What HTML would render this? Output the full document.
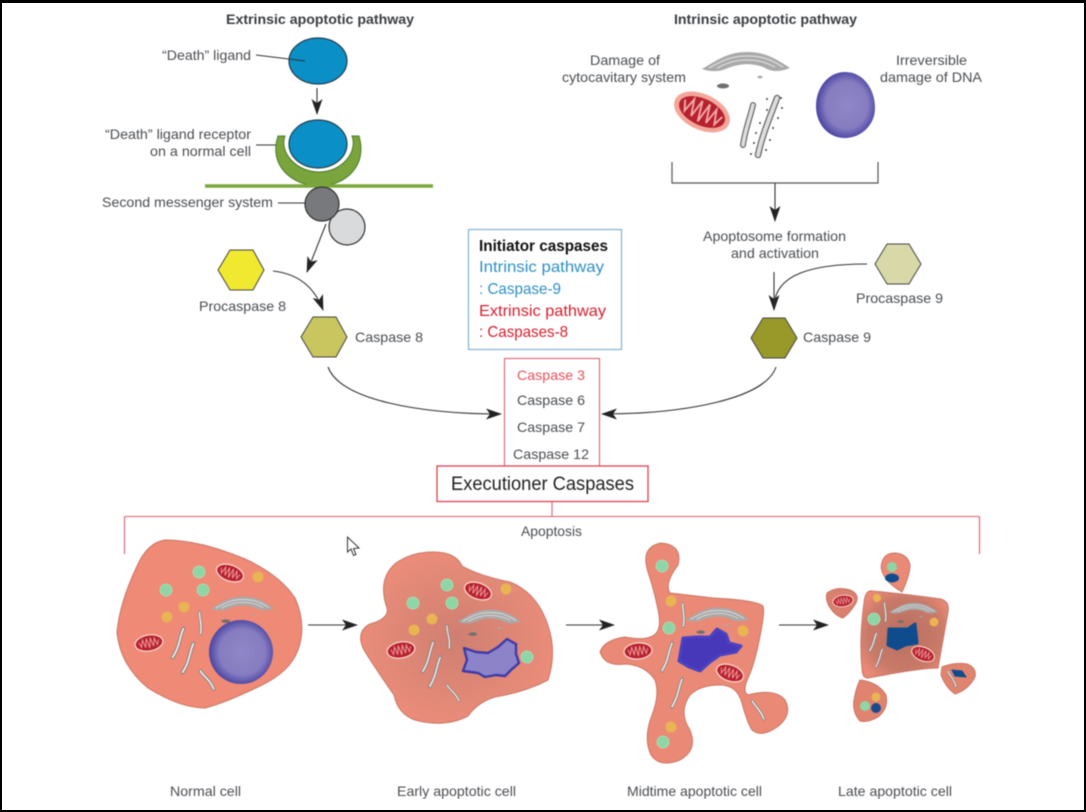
<!DOCTYPE html>
<html lang="en">
<head>
<meta charset="utf-8">
<title>Apoptotic pathways</title>
<style>
html,body{margin:0;padding:0;background:#fff;width:1086px;height:812px;overflow:hidden}
svg{display:block}
text{font-family:"Liberation Sans",sans-serif;font-size:14px;fill:#4a4d52}
.b{font-weight:bold;fill:#3a3d42}
.c{font-size:16px}
</style>
</head>
<body>
<svg width="1086" height="812" viewBox="0 0 1086 812" xmlns="http://www.w3.org/2000/svg">
<defs>
<radialGradient id="nuc" cx="52%" cy="50%" r="55%"><stop offset="0" stop-color="#8f87c6"/><stop offset=".65" stop-color="#867cc0"/><stop offset="1" stop-color="#3f3a9e"/></radialGradient>
<radialGradient id="cy2" cx="50%" cy="50%" r="55%"><stop offset="0" stop-color="#cf7f70"/><stop offset=".75" stop-color="#e58a78"/><stop offset="1" stop-color="#ee8d7a"/></radialGradient>
<radialGradient id="cy4" cx="50%" cy="50%" r="60%"><stop offset="0" stop-color="#b8705f"/><stop offset=".7" stop-color="#c97a69"/><stop offset="1" stop-color="#ea8a76"/></radialGradient>
<filter id="bl" x="0" y="0" width="100%" height="100%" color-interpolation-filters="sRGB"><feGaussianBlur stdDeviation=".4"/></filter>
<marker id="ah" viewBox="0 0 16 11" refX="15" refY="5.500" markerWidth="16" markerHeight="11" markerUnits="userSpaceOnUse" orient="auto"><path d="M0,0 L16,5.500 L0,11 L4,5.500Z" fill="#222"/></marker>
<g id="mito"><ellipse rx="14" ry="8" fill="#b7202f" stroke="#fbd5cc" stroke-width="1.3"/><polyline points="-10,-2 -8,3 -6,-4 -4,4 -2,-5 0,5 2,-5 4,4 6,-4 8,3 10,-2" fill="none" stroke="#ee9a98" stroke-width="1"/></g>
<g id="golgi">
<path d="M-45,4 C-27,-7 -17,-13 0,-13 C18,-13 28,-7 43,3 C33,7 25,7 18,3 C8,-2 -7,-2 -19,3 C-27,7 -37,7 -45,4Z" fill="#a9a9a9"/>
<path d="M-38,3 C-22,-6 -14,-9 0,-9 C15,-9 23,-6 36,2" fill="none" stroke="#dcdcdc" stroke-width="1.3"/>
<path d="M-30,3 C-18,-3 -10,-5 0,-5 C11,-5 18,-3 28,2" fill="none" stroke="#e4e4e4" stroke-width="1"/>
<ellipse cx="-24" cy="21" rx="6" ry="2.500" fill="#707070"/>
<ellipse cx="13" cy="12" rx="2.500" ry="1.400" fill="#aaa"/>
</g>
<g id="er" fill="none" stroke-linecap="round"><path d="M2,-13 C0,-6 3,3 -2,13" stroke="#777" stroke-width="4"/><path d="M2,-13 C0,-6 3,3 -2,13" stroke="#ececec" stroke-width="2.200"/></g>
<circle id="gr" r="6" fill="#8fd6a6" stroke="#a8e4bc" stroke-width=".8"/>
<circle id="ye" r="5.500" fill="#e9b452"/>
</defs>

<rect width="1086" height="812" fill="#fff"/>
<g filter="url(#bl)">
<!-- headings -->
<text class="b" x="226" y="24" textLength="188" lengthAdjust="spacingAndGlyphs">Extrinsic apoptotic pathway</text>
<text class="b" x="674" y="24" textLength="183" lengthAdjust="spacingAndGlyphs">Intrinsic apoptotic pathway</text>

<!-- extrinsic -->
<text x="162" y="60" textLength="89" lengthAdjust="spacingAndGlyphs">“Death” ligand</text>
<ellipse cx="318" cy="61" rx="29" ry="23" fill="#0a8fc6" stroke="#24404f" stroke-width="1.2"/>
<line x1="256" y1="55" x2="305" y2="61" stroke="#333" stroke-width="1.1"/>
<line x1="317" y1="88" x2="317" y2="114" stroke="#333" stroke-width="1.1" marker-end="url(#ah)"/>
<text x="105" y="139" textLength="146" lengthAdjust="spacingAndGlyphs">“Death” ligand receptor</text>
<text x="150" y="156" textLength="101" lengthAdjust="spacingAndGlyphs">on a normal cell</text>
<line x1="256" y1="145" x2="281" y2="145" stroke="#333" stroke-width="1.1"/>
<path d="M278,136 H285 C279,152 296,172 319,172 C342,172 358,152 352,136 H359 C368,166 345,186 319,186 C293,186 268,166 278,136Z" fill="#79a53c" stroke="#4e7a28" stroke-width="1"/>
<ellipse cx="318" cy="144" rx="29" ry="24" fill="#0a8fc6" stroke="#24404f" stroke-width="1.2"/>
<line x1="205" y1="186" x2="433" y2="186" stroke="#7aa83b" stroke-width="3.400"/>
<text x="102" y="207" textLength="171" lengthAdjust="spacingAndGlyphs">Second messenger system</text>
<line x1="278" y1="203" x2="306" y2="203" stroke="#333" stroke-width="1.1"/>
<circle cx="347" cy="227" r="18" fill="#d9dadc" stroke="#333" stroke-width="1.2"/>
<circle cx="322" cy="204" r="17" fill="#77797c" stroke="#333" stroke-width="1.2"/>
<line x1="326" y1="224" x2="307" y2="272" stroke="#333" stroke-width="1.1" marker-end="url(#ah)"/>
<polygon points="218,270 230,250 253,250 264,270 253,290 230,290" fill="#f0e92f" stroke="#444" stroke-width="1"/>
<path d="M273,271 Q310,275 323,310" fill="none" stroke="#333" stroke-width="1.1" marker-end="url(#ah)"/>
<text x="199" y="311" textLength="87" lengthAdjust="spacingAndGlyphs">Procaspase 8</text>
<polygon points="301,337 313,317 336,317 347,337 336,357 313,357" fill="#c9c660" stroke="#444" stroke-width="1"/>
<text x="355" y="342" textLength="68" lengthAdjust="spacingAndGlyphs">Caspase 8</text>

<!-- intrinsic -->
<text x="590" y="65" textLength="70" lengthAdjust="spacingAndGlyphs">Damage of</text>
<text x="562" y="82" textLength="124" lengthAdjust="spacingAndGlyphs">cytocavitary system</text>
<text x="896" y="65" textLength="71" lengthAdjust="spacingAndGlyphs">Irreversible</text>
<text x="880" y="82" textLength="102" lengthAdjust="spacingAndGlyphs">damage of DNA</text>
<use href="#golgi" transform="translate(747,65)"/>
<g transform="translate(702,112) rotate(25) scale(2.05,2.05)"><ellipse rx="14.500" ry="8.700" fill="#f3a79a"/><ellipse rx="12" ry="6.500" fill="#b7202f"/><polyline points="-10,-2 -8,3 -6,-4 -4,4 -2,-5 0,5 2,-5 4,4 6,-4 8,3 10,-2" fill="none" stroke="#f2aaa6" stroke-width=".9"/></g>
<g fill="none" stroke-linecap="round">
<path d="M753,105 C750,118 745,130 743,145" stroke="#666" stroke-width="6"/><path d="M753,105 C750,118 745,130 743,145" stroke="#dedede" stroke-width="3.600"/>
<path d="M777,98 C772,112 762,135 758,155" stroke="#666" stroke-width="6.500"/><path d="M777,98 C772,112 762,135 758,155" stroke="#dedede" stroke-width="4"/>
</g>
<g fill="#444"><circle cx="767" cy="99" r="1"/><circle cx="781" cy="98" r="1"/><circle cx="782" cy="108" r="1"/><circle cx="767" cy="110" r="1"/><circle cx="778" cy="118" r="1"/><circle cx="760" cy="123" r="1"/><circle cx="773" cy="128" r="1"/><circle cx="756" cy="133" r="1"/><circle cx="770" cy="140" r="1"/><circle cx="754" cy="143" r="1"/><circle cx="766" cy="150" r="1"/><circle cx="751" cy="154" r="1"/></g>
<path d="M845,72 C864,72 875,90 875,108 C875,126 860,138 845,138 C828,138 816,124 816,106 C816,88 828,72 845,72Z" fill="url(#nuc)"/>
<path d="M672,162 V183 H878 V162" fill="none" stroke="#555" stroke-width="1.2"/>
<line x1="775" y1="183" x2="775" y2="221" stroke="#333" stroke-width="1.1" marker-end="url(#ah)"/>
<text x="703" y="241" textLength="143" lengthAdjust="spacingAndGlyphs">Apoptosome formation</text>
<text x="731" y="258" textLength="88" lengthAdjust="spacingAndGlyphs">and activation</text>
<polygon points="875,264 887,244 909,244 921,264 909,284 887,284" fill="#d8d8a8" stroke="#444" stroke-width="1"/>
<text x="856" y="303" textLength="87" lengthAdjust="spacingAndGlyphs">Procaspase 9</text>
<line x1="774" y1="272" x2="774" y2="310" stroke="#333" stroke-width="1.1" marker-end="url(#ah)"/>
<path d="M867,264 C810,264 776,275 774,305" fill="none" stroke="#333" stroke-width="1.1"/>
<polygon points="751,338 763,318 785,318 797,338 785,358 763,358" fill="#99992a" stroke="#444" stroke-width="1"/>
<text x="803" y="342" textLength="68" lengthAdjust="spacingAndGlyphs">Caspase 9</text>

<!-- initiator box -->
<rect x="468.500" y="229.500" width="153" height="120" fill="#fff" stroke="#7fb2d2" stroke-width="1.2"/>
<text x="479" y="251" textLength="129" lengthAdjust="spacingAndGlyphs" style="font-size:15.500px;font-weight:bold;fill:#111">Initiator caspases</text>
<text class="c" x="479" y="272" textLength="125" lengthAdjust="spacingAndGlyphs" style="fill:#2f8fc4">Intrinsic pathway</text>
<text class="c" x="479" y="294" textLength="82" lengthAdjust="spacingAndGlyphs" style="fill:#2f8fc4">: Caspase-9</text>
<text class="c" x="479" y="316" textLength="127" lengthAdjust="spacingAndGlyphs" style="fill:#d81e2c">Extrinsic pathway</text>
<text class="c" x="479" y="337" textLength="89" lengthAdjust="spacingAndGlyphs" style="fill:#d81e2c">: Caspases-8</text>

<!-- caspases -->
<path d="M328,367 C340,400 420,414 501,414" fill="none" stroke="#333" stroke-width="1.1" marker-end="url(#ah)"/>
<path d="M776,367 C765,400 680,414 602,414" fill="none" stroke="#333" stroke-width="1.1" marker-end="url(#ah)"/>
<rect x="504.500" y="358.500" width="95" height="108" fill="#fff" stroke="#e4606c" stroke-width="1.1"/>
<text x="517" y="380" textLength="68" lengthAdjust="spacingAndGlyphs" style="fill:#e8505c">Caspase 3</text>
<text x="517" y="405" textLength="68" lengthAdjust="spacingAndGlyphs">Caspase 6</text>
<text x="517" y="432" textLength="68" lengthAdjust="spacingAndGlyphs">Caspase 7</text>
<text x="513" y="459" textLength="76" lengthAdjust="spacingAndGlyphs">Caspase 12</text>
<rect x="437" y="466" width="211" height="35.500" fill="#fff" stroke="#e0404e" stroke-width="1.3"/>
<text x="451" y="490" textLength="183" lengthAdjust="spacingAndGlyphs" style="font-size:19px;fill:#222">Executioner Caspases</text>
<path d="M552,502 V516.500 M124.500,554 V516.500 H979.500 V554" fill="none" stroke="#e0606c" stroke-width="1.1"/>
<text x="521" y="536" textLength="61" lengthAdjust="spacingAndGlyphs">Apoptosis</text>

<!-- cell arrows -->
<line x1="308" y1="625" x2="357" y2="625" stroke="#333" stroke-width="1.1" marker-end="url(#ah)"/>
<line x1="566" y1="625" x2="614" y2="625" stroke="#333" stroke-width="1.1" marker-end="url(#ah)"/>
<line x1="779" y1="625" x2="828" y2="625" stroke="#333" stroke-width="1.1" marker-end="url(#ah)"/>

<!-- normal cell -->
<path d="M165,540 Q200,540 245,559 Q280,575 295,598 Q307,625 298,650 Q290,672 260,686 Q225,703 205,708 Q180,708 148,688 Q120,665 117,632 Q120,600 140,560 Q150,542 165,540Z" fill="#ee8a76" stroke="#c97564" stroke-width="1"/>
<use href="#gr" x="199" y="572"/><use href="#gr" x="166" y="590"/><use href="#gr" x="203" y="590"/>
<use href="#ye" x="258" y="577"/><use href="#ye" x="184" y="607"/><use href="#ye" x="167" y="617"/>
<use href="#mito" transform="translate(230,573) rotate(20)"/><use href="#mito" transform="translate(149,643) rotate(-10)"/>
<use href="#golgi" transform="translate(243,606) scale(.72)"/>
<circle cx="241" cy="652" r="32" fill="url(#nuc)"/>
<use href="#er" transform="translate(178,643) rotate(14) scale(.85,1.15)"/>
<use href="#er" transform="translate(188,658) rotate(14) scale(.85,1.15)"/>
<use href="#er" transform="translate(207,680) rotate(-45) scale(.85)"/>
<use href="#er" transform="translate(200,623) rotate(-10) scale(.7,.8)"/>

<!-- early cell -->
<path d="M433,552 Q456,552 462,566 Q480,576 510,582 Q535,592 546,620 Q558,650 548,680 Q525,692 495,697 Q478,702 468,716 Q445,728 415,720 Q398,714 394,695 Q375,668 364,650 Q355,632 370,624 Q392,618 386,605 Q378,578 396,563 Q412,552 433,552Z" fill="url(#cy2)" stroke="#c97564" stroke-width="1"/>
<use href="#gr" x="447" y="585"/><use href="#gr" x="413" y="603"/><use href="#gr" x="452" y="603"/><use href="#gr" x="527" y="657"/>
<use href="#ye" x="506" y="589"/><use href="#ye" x="432" y="619"/><use href="#ye" x="414" y="630"/>
<use href="#mito" transform="translate(478,591) rotate(20)"/><use href="#mito" transform="translate(401,650) rotate(-10)"/>
<use href="#golgi" transform="translate(490,619) scale(.72)"/>
<path d="M464,648 L476,652 L488,653 L498,647 L507,639 L516,644 L516,654 L519,663 L511,670 L505,676 L496,675 L485,677 L478,673 L463,671 L467,660Z" fill="#8d83c8" stroke="#3f3aa8" stroke-width="2.400" stroke-linejoin="round"/>
<use href="#er" transform="translate(428,657) rotate(14) scale(.75,1.15)"/>
<use href="#er" transform="translate(435,672) rotate(14) scale(.75,1.15)"/>
<use href="#er" transform="translate(448,637) rotate(-12) scale(.6,.85)"/>
<use href="#er" transform="translate(453,693) rotate(-45) scale(.6,.75)"/>

<!-- midtime cell -->
<path d="M661,543 Q683,545 678,565 Q664,584 670,593 L713,598 Q755,600 763,606 Q765,612 760,636 Q755,663 748,678 Q742,692 748,695 Q775,688 785,700 Q793,715 777,727 Q762,738 752,730 Q747,722 742,703 Q737,685 720,685 Q700,685 690,695 Q678,712 690,730 Q698,750 680,760 Q660,768 651,755 Q643,738 652,715 Q660,695 655,680 Q645,665 625,664 Q605,667 600,652 Q604,640 625,637 Q650,642 657,632 Q662,625 657,605 Q654,590 648,572 Q640,547 661,543Z" fill="#ea8a76" stroke="#c97564" stroke-width="1"/>
<use href="#gr" x="662" y="566"/><use href="#gr" x="669" y="628"/><use href="#gr" x="663" y="742"/>
<use href="#ye" x="671" y="601"/><use href="#ye" x="743" y="631"/><use href="#ye" x="671" y="727"/>
<use href="#mito" transform="translate(638,651) rotate(-5)"/><use href="#mito" transform="translate(730,673) rotate(20)"/>
<use href="#golgi" transform="translate(718,617) scale(.72)"/>
<path d="M683,638 L696,637 L710,637 L717,629 L726,634 L729,643 L741,646 L736,652 L720,655 L710,662 L700,671 L689,667 L679,661Z" fill="#4638b8" stroke="#4a42c4" stroke-width="3" stroke-linejoin="round"/>
<use href="#er" transform="translate(667,657) rotate(14) scale(.75,1.1)"/>
<use href="#er" transform="translate(677,693) rotate(14) scale(.75,1.1)"/>
<use href="#er" transform="translate(683,615) rotate(-8) scale(.65,.85)"/>
<use href="#er" transform="translate(758,710) rotate(-40) scale(.7,.8)"/>

<!-- late cell -->
<path d="M872,591 Q905,594 941,599 Q950,602 948,612 L938,668 Q920,668 868,678 Q862,678 862,668 Q859,640 864,603 Q865,590 872,591Z" fill="url(#cy4)" stroke="#c97564" stroke-width="1"/>
<path d="M895,553 Q908,554 910,565 Q910,575 902,592 Q892,586 887,580 Q879,570 882,562 Q885,553 895,553Z" fill="#ea8a76" stroke="#c97564" stroke-width="1"/>
<path d="M827,593 Q837,586 850,590 Q860,594 856,603 Q850,613 843,618 Q835,616 829,606 Q825,598 827,593Z" fill="#d9806e" stroke="#c97564" stroke-width="1"/>
<path d="M942,667 Q955,662 967,664 Q977,668 975,677 Q968,690 955,694 Q946,688 941,675Z" fill="#e0846f" stroke="#c97564" stroke-width="1"/>
<path d="M860,680 Q878,682 886,695 Q889,708 878,717 Q868,723 860,721 Q852,712 854,700 Q856,688 860,680Z" fill="#e0846f" stroke="#c97564" stroke-width="1"/>
<use href="#gr" x="874" y="619"/><circle cx="892" cy="567" r="5" fill="#8fd6a6"/><circle cx="865" cy="706" r="5" fill="#8fd6a6"/>
<circle cx="877" cy="598" r="4" fill="#e9b452"/><circle cx="934" cy="622" r="4.500" fill="#e9b452"/><circle cx="876" cy="697" r="4.500" fill="#e9b452"/>
<use href="#mito" transform="translate(843,601) rotate(-8) scale(.72)"/><use href="#mito" transform="translate(923,654) rotate(22) scale(.85)"/>
<use href="#golgi" transform="translate(914,610) scale(.55)"/>
<path d="M889,629 L908,629 L915,624 L917,643 L905,645 L897,649 L888,645Z" fill="#0f4c8e" stroke="#0f4c8e" stroke-width="3" stroke-linejoin="round"/>
<ellipse cx="892" cy="578" rx="7" ry="4.500" fill="#0f4c8e"/>
<circle cx="876" cy="708" r="5" fill="#1a4a8e"/>
<path d="M952,670 L962,671 L966,677 L955,676Z" fill="#0f4c8e" stroke="#0f4c8e"/>
<use href="#er" transform="translate(885,612) rotate(-10) scale(.55,.7)"/>
<use href="#er" transform="translate(873,642) rotate(14) scale(.6,.7)"/>
<use href="#er" transform="translate(879,658) rotate(14) scale(.55,.7)"/>
<use href="#er" transform="translate(952,679) rotate(-35) scale(.55,.65)"/>

<!-- labels -->
<text x="170" y="796" textLength="71" lengthAdjust="spacingAndGlyphs">Normal cell</text>
<text x="397" y="796" textLength="119" lengthAdjust="spacingAndGlyphs">Early apoptotic cell</text>
<text x="627" y="796" textLength="135" lengthAdjust="spacingAndGlyphs">Midtime apoptotic cell</text>
<text x="838" y="796" textLength="114" lengthAdjust="spacingAndGlyphs">Late apoptotic cell</text>

<!-- cursor -->
<path d="M347.500,537 V552 L351,549 L353.500,555.500 L356,554.500 L353.500,548.500 L359,548Z" fill="#fff" stroke="#333" stroke-width="1"/>
</g>
<!-- frame -->
<rect x="0" y="0" width="1086" height="3" fill="#000"/>
<rect x="0" y="810" width="1086" height="2" fill="#000"/>
<rect x="0" y="0" width="2" height="812" fill="#000"/>
<rect x="1084" y="0" width="2" height="812" fill="#000"/>
</svg>
</body>
</html>
